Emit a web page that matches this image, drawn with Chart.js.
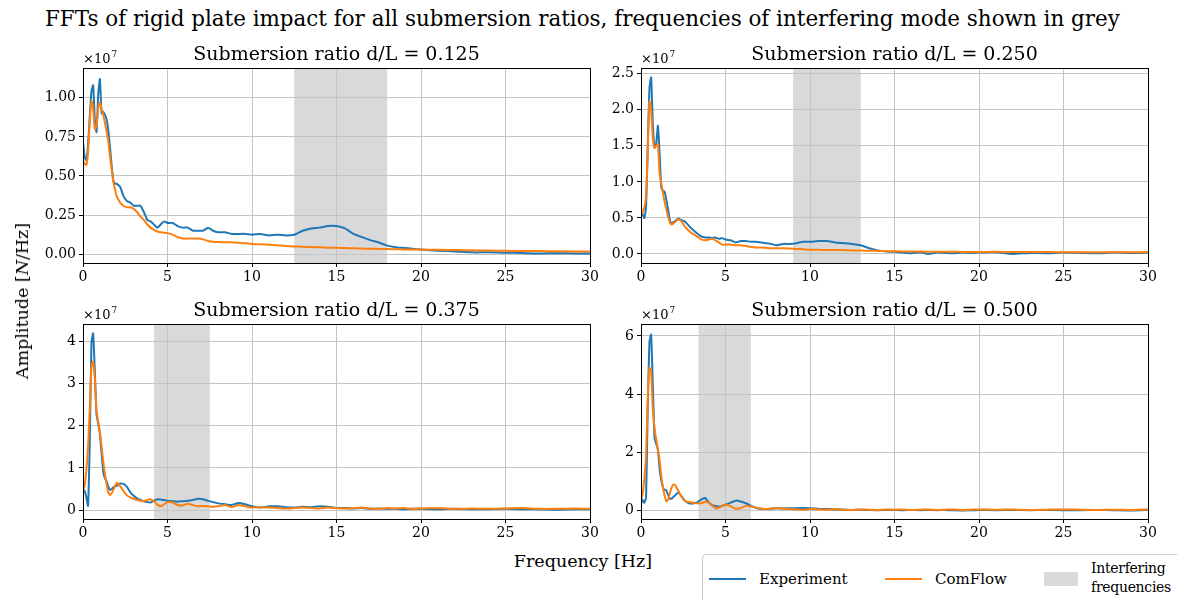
<!DOCTYPE html>
<html>
<head>
<meta charset="utf-8">
<script src="https://cdn.jsdelivr.net/npm/chart.js@4.4.0/dist/chart.umd.min.js"></script>
<style>
  body { margin: 0; background: #fff; }
  #fig { position: relative; width: 1177px; height: 600px; overflow: hidden; font-family: "DejaVu Serif", serif; color: #000; }
  #fig canvas { position: absolute; }
  .suptitle { position: absolute; left: 45px; top: 6px; font-size: 21.45px; white-space: nowrap; }
  .xlabel { position: absolute; left: 433px; width: 300px; top: 551px; text-align: center; font-size: 17.5px; }
  .ylabel { position: absolute; left: 22px; top: 301px; transform: translate(-50%, -50%) rotate(-90deg); white-space: nowrap; font-size: 17.5px; }
  .legend { position: absolute; left: 702px; top: 554px; width: 500px; height: 60px; border: 1px solid #ccc; border-radius: 4px; background: #fff; font-size: 15px; }
  .legend .ln { position: absolute; top: 23px; height: 2px; width: 37px; }
  .legend .lt { position: absolute; top: 14px; line-height: 20px; white-space: nowrap; }
  .legend .patch { position: absolute; left: 341px; top: 17px; width: 34px; height: 14px; background: #d9d9d9; }
  .legend .two { position: absolute; left: 388px; top: 4px; line-height: 19px; font-size: 14px; letter-spacing: -0.3px; white-space: nowrap; }
</style>
</head>
<body>
<div id="fig">
  <div class="suptitle">FFTs of rigid plate impact for all submersion ratios, frequencies of interfering mode shown in grey</div>
  <canvas id="c125" width="574" height="248" style="left:28px; top:40px; width:574px; height:248px"></canvas>
  <canvas id="c250" width="570" height="248" style="left:590px; top:40px; width:570px; height:248px"></canvas>
  <canvas id="c375" width="574" height="248" style="left:28px; top:296px; width:574px; height:248px"></canvas>
  <canvas id="c500" width="570" height="248" style="left:590px; top:296px; width:570px; height:248px"></canvas>
  <div class="ylabel">Amplitude [<i>N</i>/Hz]</div>
  <div class="xlabel">Frequency [Hz]</div>
  <div class="legend">
    <span class="ln" style="left:6px; background:#1f77b4"></span><span class="lt" style="left:56px">Experiment</span>
    <span class="ln" style="left:182px; background:#ff7f0e"></span><span class="lt" style="left:232px">ComFlow</span>
    <span class="patch"></span><span class="two">Interfering<br>frequencies</span>
  </div>
</div>
<script>
// frequency grid [Hz]
const freq = [
  0, 0.1, 0.2, 0.3, 0.4, 0.5, 0.6, 0.7, 0.8, 0.9, 1.0, 1.1, 1.2, 1.3, 1.4, 1.5, 1.6, 1.7, 1.8, 1.9, 2.0,
  2.2, 2.4, 2.6, 2.8, 3.0, 3.2, 3.4, 3.6, 3.8, 4.0, 4.2, 4.4, 4.6, 4.8, 5.0,
  5.3, 5.6, 5.9, 6.2, 6.5, 6.8, 7.1, 7.4, 7.7, 8.0,
  8.4, 8.8, 9.2, 9.6, 10.0,
  10.5, 11, 11.5, 12, 12.5, 13, 13.5, 14, 14.5, 15, 15.5, 16, 16.5, 17, 17.5, 18, 18.5, 19, 19.5, 20,
  21, 22, 23, 24, 25, 26, 27, 28, 29, 30,
];

// amplitudes in units of 1e7 N/Hz
const expD125 = [
  0.72, 0.62, 0.60, 0.70, 0.88, 1.04, 1.08, 0.86, 0.78, 1.02, 1.12, 0.90, 0.91, 0.89, 0.86, 0.79, 0.68, 0.56, 0.47, 0.45, 0.45,
  0.43, 0.37, 0.34, 0.33, 0.31, 0.31, 0.31, 0.27, 0.22, 0.21, 0.19, 0.17, 0.19, 0.21, 0.20,
  0.20, 0.18, 0.17, 0.17, 0.15, 0.15, 0.15, 0.17, 0.15, 0.14,
  0.14, 0.13, 0.13, 0.13, 0.125,
  0.13, 0.12, 0.125, 0.12, 0.125, 0.15, 0.165, 0.17, 0.18, 0.18, 0.165, 0.13, 0.11, 0.09, 0.075, 0.055, 0.045, 0.04, 0.035, 0.03,
  0.022, 0.018, 0.012, 0.012, 0.01, 0.008, 0.004, 0.007, 0.005, 0.004,
];
const cfD125 = [
  0.60, 0.58, 0.57, 0.65, 0.85, 0.98, 0.93, 0.80, 0.82, 0.93, 0.97, 0.93, 0.89, 0.84, 0.78, 0.72, 0.62, 0.54, 0.46, 0.41, 0.37,
  0.33, 0.31, 0.30, 0.30, 0.29, 0.27, 0.24, 0.22, 0.19, 0.17, 0.155, 0.145, 0.14, 0.138, 0.135,
  0.125, 0.11, 0.10, 0.10, 0.10, 0.10, 0.095, 0.085, 0.08, 0.078,
  0.077, 0.076, 0.073, 0.07, 0.065,
  0.064, 0.06, 0.058, 0.053, 0.05, 0.048, 0.046, 0.044, 0.042, 0.041, 0.04, 0.038, 0.036, 0.035, 0.034, 0.033, 0.032, 0.031, 0.03, 0.03,
  0.028, 0.027, 0.025, 0.024, 0.022, 0.021, 0.02, 0.019, 0.018, 0.017,
];
const expD250 = [
  0.59, 0.55, 0.50, 0.65, 1.50, 2.30, 2.45, 1.80, 1.48, 1.53, 1.78, 1.40, 0.92, 0.88, 0.86, 0.75, 0.62, 0.48, 0.42, 0.44, 0.45,
  0.49, 0.47, 0.45, 0.40, 0.35, 0.31, 0.27, 0.24, 0.23, 0.23, 0.22, 0.23, 0.21, 0.22, 0.20,
  0.19, 0.16, 0.18, 0.18, 0.17, 0.17, 0.16, 0.15, 0.14, 0.12,
  0.14, 0.14, 0.15, 0.17, 0.17,
  0.18, 0.18, 0.16, 0.15, 0.14, 0.12, 0.08, 0.05, 0.035, 0.03, 0.02, 0.01, 0.025, 0.0, 0.02, 0.015, 0.01, 0.02, 0.015, 0.02,
  0.025, 0.0, 0.015, 0.01, 0.02, 0.015, 0.01, 0.02, 0.015, 0.02,
];
const cfD250 = [
  0.55, 0.58, 0.65, 0.80, 1.45, 2.12, 1.98, 1.60, 1.47, 1.50, 1.52, 1.12, 0.98, 0.84, 0.72, 0.62, 0.52, 0.44, 0.41, 0.42, 0.44,
  0.48, 0.45, 0.38, 0.33, 0.29, 0.26, 0.23, 0.20, 0.19, 0.20, 0.21, 0.19, 0.16, 0.13, 0.13,
  0.13, 0.12, 0.12, 0.11, 0.10, 0.09, 0.09, 0.085, 0.08, 0.08,
  0.08, 0.075, 0.07, 0.065, 0.06,
  0.058, 0.056, 0.055, 0.053, 0.05, 0.048, 0.045, 0.042, 0.04, 0.038, 0.036, 0.034, 0.033, 0.032, 0.031, 0.03, 0.03, 0.029, 0.028, 0.028,
  0.03, 0.027, 0.026, 0.026, 0.025, 0.025, 0.024, 0.024, 0.023, 0.023,
];
const expD375 = [
  0.48, 0.45, 0.30, 0.10, 1.60, 3.96, 4.19, 3.30, 2.26, 2.05, 1.80, 1.35, 0.90, 0.75, 0.68, 0.55, 0.48, 0.50, 0.54, 0.56, 0.58,
  0.63, 0.62, 0.55, 0.42, 0.34, 0.28, 0.24, 0.21, 0.19, 0.18, 0.22, 0.26, 0.25, 0.24, 0.22,
  0.21, 0.20, 0.21, 0.22, 0.24, 0.27, 0.26, 0.22, 0.19, 0.16,
  0.14, 0.12, 0.17, 0.14, 0.09,
  0.06, 0.09, 0.09, 0.07, 0.06, 0.08, 0.07, 0.09, 0.08, 0.05, 0.05, 0.04, 0.05, 0.03, 0.04, 0.03, 0.03, 0.02, 0.03, 0.03,
  0.02, 0.03, 0.02, 0.02, 0.03, 0.02, 0.02, 0.01, 0.02, 0.02,
];
const cfD375 = [
  0.44, 0.60, 0.95, 1.50, 2.40, 3.40, 3.52, 3.10, 2.35, 2.10, 1.85, 1.51, 1.15, 0.85, 0.60, 0.42, 0.36, 0.40, 0.48, 0.58, 0.65,
  0.57, 0.45, 0.35, 0.30, 0.27, 0.24, 0.22, 0.21, 0.24, 0.26, 0.21, 0.13, 0.09, 0.14, 0.19,
  0.18, 0.12, 0.11, 0.15, 0.12, 0.09, 0.10, 0.09, 0.08, 0.09,
  0.12, 0.07, 0.12, 0.09, 0.06,
  0.07, 0.06, 0.05, 0.04, 0.05, 0.06, 0.05, 0.04, 0.06, 0.05, 0.04, 0.05, 0.06, 0.04, 0.03, 0.05, 0.04, 0.05, 0.03, 0.04,
  0.05, 0.03, 0.04, 0.03, 0.04, 0.05, 0.03, 0.03, 0.04, 0.03,
];
const expD500 = [
  0.23, 0.38, 0.28, 0.45, 3.60, 5.80, 6.05, 4.30, 2.50, 2.30, 2.10, 1.45, 1.05, 0.80, 0.72, 0.70, 0.55, 0.42, 0.42, 0.47, 0.52,
  0.63, 0.50, 0.35, 0.27, 0.25, 0.27, 0.32, 0.40, 0.44, 0.30, 0.20, 0.17, 0.15, 0.17, 0.21,
  0.28, 0.35, 0.32, 0.26, 0.18, 0.10, 0.07, 0.06, 0.07, 0.09,
  0.08, 0.09, 0.09, 0.10, 0.09,
  0.07, 0.06, 0.05, 0.04, 0.03, 0.04, 0.03, 0.02, 0.03, 0.03, 0.02, 0.03, 0.02, 0.03, 0.02, 0.03, 0.02, 0.01, 0.02, 0.03,
  0.02, 0.03, 0.02, 0.03, 0.02, 0.02, 0.03, 0.02, 0.01, 0.03,
];
const cfD500 = [
  0.34, 0.60, 1.10, 1.90, 3.90, 4.92, 4.75, 3.50, 2.85, 2.45, 2.10, 1.75, 1.20, 0.80, 0.52, 0.33, 0.38, 0.58, 0.78, 0.90, 0.90,
  0.70, 0.48, 0.34, 0.30, 0.29, 0.27, 0.25, 0.27, 0.31, 0.28, 0.18, 0.09, 0.10, 0.17, 0.22,
  0.16, 0.07, 0.10, 0.17, 0.15, 0.11, 0.08, 0.06, 0.08, 0.09,
  0.07, 0.06, 0.05, 0.04, 0.06,
  0.05, 0.04, 0.06, 0.04, 0.03, 0.05, 0.04, 0.03, 0.05, 0.04, 0.05, 0.03, 0.04, 0.05, 0.03, 0.04, 0.05, 0.03, 0.04, 0.05,
  0.04, 0.05, 0.03, 0.04, 0.05, 0.04, 0.03, 0.04, 0.03, 0.05,
];

// interfering mode frequency bands [Hz]
const bandD125 = [12.5, 18.0];
const bandD250 = [9.0, 13.0];
const bandD375 = [4.2, 7.5];
const bandD500 = [3.4, 6.5];

const xTicks = [0, 5, 10, 15, 20, 25, 30];
const yTicksD125 = [0, 0.25, 0.5, 0.75, 1.0];
const yTicksD250 = [0, 0.5, 1.0, 1.5, 2.0, 2.5];
const yTicksD375 = [0, 1, 2, 3, 4];
const yTicksD500 = [0, 2, 4, 6];

const ratios = ["0.125", "0.250", "0.375", "0.500"];

const BLUE = "#1f77b4";
const ORANGE = "#ff7f0e";
const FONT = '"DejaVu Serif", serif';

const panelDeco = {
  id: "panelDeco",
  beforeDraw(chart, args, opts) {
    const { ctx, chartArea: a, scales } = chart;
    const x0 = scales.x.getPixelForValue(opts.band[0]);
    const x1 = scales.x.getPixelForValue(opts.band[1]);
    ctx.save();
    ctx.fillStyle = "#d9d9d9";
    ctx.fillRect(x0, a.top, x1 - x0, a.bottom - a.top);
    ctx.restore();
  },
  afterDraw(chart, args, opts) {
    const { ctx, chartArea: a } = chart;
    ctx.save();
    ctx.strokeStyle = "#000";
    ctx.lineWidth = 1;
    ctx.strokeRect(Math.round(a.left) + 0.5, Math.round(a.top) + 0.5,
      Math.round(a.right - a.left), Math.round(a.bottom - a.top));
    ctx.fillStyle = "#000";
    ctx.textAlign = "center";
    ctx.textBaseline = "alphabetic";
    ctx.font = `19px ${FONT}`;
    ctx.fillText(opts.title, (a.left + a.right) / 2, a.top - 8);
    // offset text
    ctx.textAlign = "left";
    ctx.font = `13px ${FONT}`;
    ctx.fillText("×10", a.left, a.top - 5);
    const w = ctx.measureText("×10").width;
    ctx.font = `9px ${FONT}`;
    ctx.fillText("7", a.left + w + 1, a.top - 11);
    ctx.restore();
  },
};

function makePanel(id, exp, cf, band, yTicks, yMin, yMax, decimals, ratio, yWidth) {
  const ctx = document.getElementById(id).getContext("2d");
  return new Chart(ctx, {
    type: "line",
    data: {
      datasets: [
        {
          label: "Experiment",
          data: freq.map((f, i) => ({ x: f, y: exp[i] })),
          borderColor: BLUE,
          borderWidth: 2,
          pointRadius: 0,
          tension: 0.15,
          order: 1,
        },
        {
          label: "ComFlow",
          data: freq.map((f, i) => ({ x: f, y: cf[i] })),
          borderColor: ORANGE,
          borderWidth: 2,
          pointRadius: 0,
          tension: 0.2,
          order: 0,
        },
      ],
    },
    plugins: [panelDeco],
    options: {
      responsive: false,
      animation: false,
      layout: { padding: { top: 28, right: 12, left: 0, bottom: 0 } },
      plugins: {
        legend: { display: false },
        tooltip: { enabled: false },
        panelDeco: { band, title: `Submersion ratio d/L = ${ratio}` },
      },
      scales: {
        x: {
          type: "linear",
          min: 0,
          max: 30,
          afterBuildTicks: (axis) => { axis.ticks = xTicks.map((v) => ({ value: v })); },
          afterFit: (axis) => { axis.height = 25; },
          border: { display: false },
          grid: { color: "#c4c4c4", lineWidth: 1, tickColor: "#000", tickLength: 4 },
          ticks: { color: "#000", font: { family: FONT, size: 14 }, padding: 2, maxRotation: 0 },
        },
        y: {
          min: yMin,
          max: yMax,
          afterBuildTicks: (axis) => { axis.ticks = yTicks.map((v) => ({ value: v })); },
          afterFit: (axis) => { axis.width = yWidth; },
          border: { display: false },
          grid: { color: "#c4c4c4", lineWidth: 1, tickColor: "#000", tickLength: 4 },
          ticks: {
            color: "#000",
            font: { family: FONT, size: 14 },
            padding: 3,
            callback: (v) => Number(v).toFixed(decimals),
          },
        },
      },
    },
  });
}

makePanel("c125", expD125, cfD125, bandD125, yTicksD125, -0.056, 1.19, 2, ratios[0], 55);
makePanel("c250", expD250, cfD250, bandD250, yTicksD250, -0.125, 2.58, 1, ratios[1], 51);
makePanel("c375", expD375, cfD375, bandD375, yTicksD375, -0.21, 4.41, 0, ratios[2], 55);
makePanel("c500", expD500, cfD500, bandD500, yTicksD500, -0.28, 6.41, 0, ratios[3], 51);
</script>
</body>
</html>
